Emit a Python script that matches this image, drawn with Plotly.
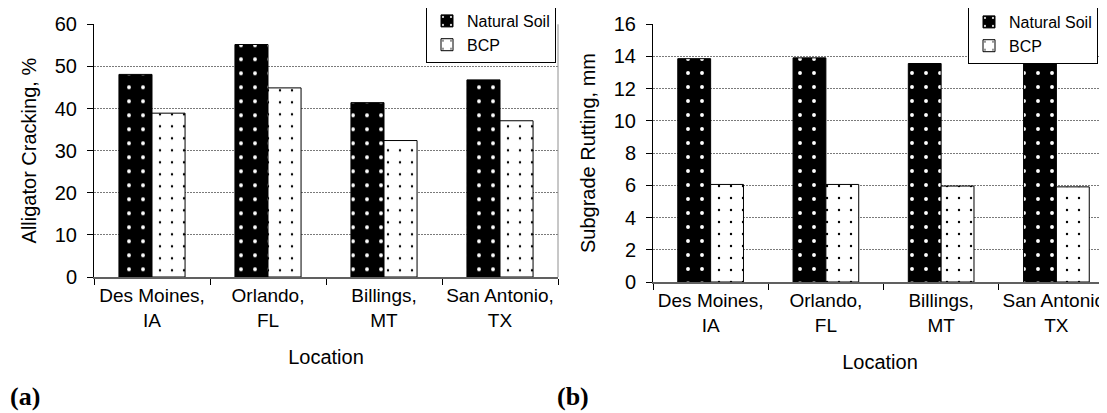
import plotly.graph_objects as go

locations = ["Des Moines,<br>IA", "Orlando,<br>FL", "Billings,<br>MT", "San Antonio,<br>TX"]
crack_natural = [48.1, 55.2, 41.4, 46.8]
crack_bcp = [38.9, 44.9, 32.4, 37.1]
rut_natural = [13.85, 13.9, 13.55, 13.55]
rut_bcp = [6.05, 6.05, 5.95, 5.9]
series_names = ["Natural Soil", "BCP"]

# the page body adds an 8px offset; size the figure so it ends at the window edge
OFF = 8
W, H = 1107 - OFF, 413 - OFF
FONT = "Liberation Sans, Arial, sans-serif"

ns_marker = dict(color="black", line=dict(color="black", width=1),
                 pattern=dict(shape=".", fgcolor="white", bgcolor="black",
                              size=14, solidity=0.06, fillmode="replace"))
bcp_marker = dict(color="white", line=dict(color="black", width=1),
                  pattern=dict(shape=".", fgcolor="black", bgcolor="white",
                               size=12, solidity=0.03, fillmode="replace"))

fig = go.Figure()
fig.add_trace(go.Bar(x=locations, y=crack_natural, name=series_names[0], marker=ns_marker,
                     xaxis="x", yaxis="y", legend="legend"))
fig.add_trace(go.Bar(x=locations, y=crack_bcp, name=series_names[1], marker=bcp_marker,
                     xaxis="x", yaxis="y", legend="legend"))
fig.add_trace(go.Bar(x=locations, y=rut_natural, name=series_names[0], marker=ns_marker,
                     xaxis="x2", yaxis="y2", legend="legend2"))
fig.add_trace(go.Bar(x=locations, y=rut_bcp, name=series_names[1], marker=bcp_marker,
                     xaxis="x2", yaxis="y2", legend="legend2"))

def px_x(p):
    return (p - OFF) / W

def px_y(p):
    return (H - (p - OFF)) / H

xcommon = dict(type="category", ticks="outside", ticklen=6, tickcolor="black",
               tickson="boundaries", showline=True, linecolor="#606060", linewidth=2,
               mirror=False, showgrid=False, zeroline=False, automargin=False, tickangle=0,
               tickfont=dict(family=FONT, size=19, color="black"),
               title=dict(text="Location", font=dict(family=FONT, size=20, color="black"), standoff=20))
ycommon = dict(ticks="outside", ticklen=6, tickcolor="black", showline=True, linecolor="black",
               linewidth=1, showgrid=True, gridcolor="#7a7a7a", gridwidth=1, griddash="2px,1px",
               zeroline=False, automargin=False, tickfont=dict(family=FONT, size=20, color="black"),
               ticklabelstandoff=6)

fig.update_layout(
    width=W, height=H,
    margin=dict(l=0, r=0, t=0, b=0, autoexpand=False),
    paper_bgcolor="white", plot_bgcolor="white",
    barmode="group", bargap=0.43, bargroupgap=0,
    font=dict(family=FONT, size=18, color="black"),
    xaxis=dict(xcommon, domain=[px_x(94), px_x(558)], anchor="y", range=[-0.5, 3.5]),
    yaxis=dict(ycommon, domain=[px_y(277), px_y(24.3)], anchor="x", range=[0, 60], dtick=10,
               title=dict(text="Alligator Cracking, %", font=dict(family=FONT, size=20, color="black"), standoff=12)),
    xaxis2=dict(xcommon, domain=[px_x(653), 1.0], anchor="y2", range=[-0.5, 3.439]),
    yaxis2=dict(ycommon, domain=[px_y(282), px_y(24)], anchor="x2", range=[0, 16], dtick=2,
                title=dict(text="Subgrade Rutting, mm", font=dict(family=FONT, size=20, color="black"), standoff=12)),
    legend=dict(x=px_x(426), y=px_y(3), xanchor="left", yanchor="top", bgcolor="white",
                bordercolor="black", borderwidth=1, font=dict(family=FONT, size=16, color="black"),
                itemwidth=30, tracegroupgap=0),
    legend2=dict(x=px_x(968), y=px_y(4), xanchor="left", yanchor="top", bgcolor="white",
                 bordercolor="black", borderwidth=1, font=dict(family=FONT, size=16, color="black"),
                 itemwidth=30, tracegroupgap=0),
    showlegend=True,
)

# right border of the left plot area
fig.add_shape(type="line", xref="x domain", yref="y domain", x0=1, x1=1, y0=0, y1=1,
              line=dict(color="#909090", width=1))

fig.add_annotation(text="<b>(a)</b>", xref="paper", yref="paper", x=px_x(8), y=px_y(396),
                   xanchor="left", yanchor="middle", showarrow=False,
                   font=dict(family="Liberation Serif, Times New Roman, serif", size=26, color="black"))
fig.add_annotation(text="<b>(b)</b>", xref="paper", yref="paper", x=px_x(555), y=px_y(396),
                   xanchor="left", yanchor="middle", showarrow=False,
                   font=dict(family="Liberation Serif, Times New Roman, serif", size=26, color="black"))

fig.write_html("out.html")
